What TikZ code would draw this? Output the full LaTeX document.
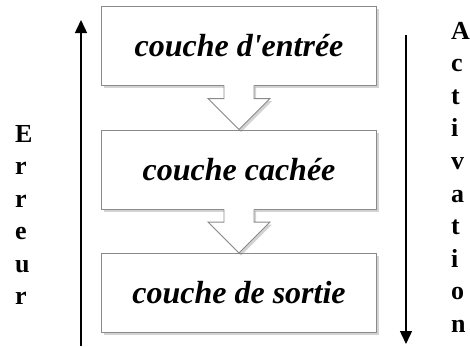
\documentclass[tikz,border=0pt]{standalone}
\usepackage{fontspec}
\setmainfont{Liberation Serif}
\usetikzlibrary{shadows,arrows.meta,calc}
\definecolor{boxgray}{HTML}{8A8A8A}
\begin{document}
\begin{tikzpicture}[x=1pt,y=-1pt,
  sh/.style={drop shadow={shadow xshift=2pt,shadow yshift=-2.5pt,opacity=0.35}},
  layer/.style={draw=boxgray, line width=0.9pt, fill=white, minimum width=275pt,
    minimum height=79pt, inner sep=0pt, sh,
    font=\fontsize{32}{36}\selectfont\bfseries\itshape},
  blockarrow/.style={draw=boxgray, line width=0.9pt},
  vert/.style={line width=1.4pt, -{Triangle[length=13pt,width=12pt]}},
  letter/.style={inner sep=0pt, font=\fontsize{26}{28}\selectfont\bfseries}]
\useasboundingbox (0,0) rectangle (470,346);
\node[layer] (in) at (239,45.5) {couche d\textquotesingle entrée};
\node[layer] (hid) at (239,169.5) {couche cachée};
\node[layer] (out) at (239,293) {couche de sortie};
\foreach \a/\b in {in/hid,hid/out}{
  \fill[white, sh] ($(\a.south)+(-15,-0.6)$) -- ($(\b.north)+(-15,-31)$) -- ($(\b.north)+(-31,-31)$)
    -- (\b.north) -- ($(\b.north)+(31,-31)$) -- ($(\b.north)+(15,-31)$) -- ($(\a.south)+(15,-0.6)$) -- cycle;
  \draw[blockarrow] ($(\a.south)+(-15,0)$) -- ($(\b.north)+(-15,-31)$) -- ($(\b.north)+(-31,-31)$)
    -- (\b.north) -- ($(\b.north)+(31,-31)$) -- ($(\b.north)+(15,-31)$) -- ($(\a.south)+(15,0)$);
}
\coordinate (eb) at (81,346);
\coordinate (et) at (81,20);
\draw[vert] (eb) -- (et);
\coordinate (at) at (406,35);
\coordinate (ab) at (406,344);
\draw[vert] (at) -- (ab);
\foreach \l [count=\i] in {E,r,r,e,u,r}
  \node[letter, anchor=base west] (err\i) at (15,{142+32.5*(\i-1)}) {\l};
\foreach \l [count=\i] in {A,c,t,i,v,a,t,i,o,n}
  \node[letter, anchor=base west] (act\i) at (451,{39+32.6*(\i-1)}) {\l};
\end{tikzpicture}
\end{document}
